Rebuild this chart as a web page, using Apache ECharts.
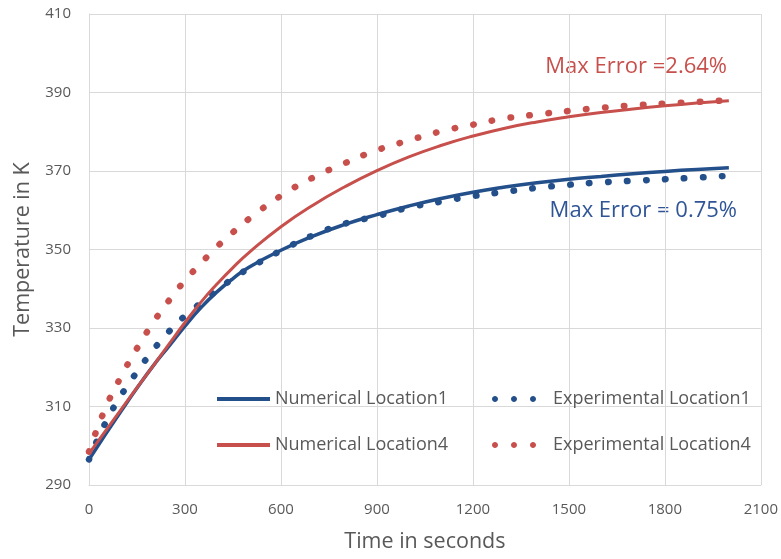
<!DOCTYPE html>
<html>
<head>
<meta charset="utf-8">
<script src="https://cdn.jsdelivr.net/npm/echarts@6/dist/echarts.min.js"></script>
<style>html,body{margin:0;padding:0;background:#fff}#c{width:781px;height:559px}</style>
</head>
<body>
<div id="c"></div>
<script>
// Time (s)
var timeS = [0,50,100,150,200,250,300,350,400,450,500,600,700,800,900,1000,1100,1200,1300,1400,1500,1600,1700,1800,1900,2000];
// Temperatures (K)
var numLoc1 = [296.5,302.7,308.8,314.7,320.3,325.4,330.5,335.2,339.2,342.6,345.5,349.8,353.4,356.4,358.9,361.1,363.0,364.6,365.9,367.0,367.9,368.6,369.3,369.9,370.4,370.8];
var expLoc1 = [296.5,305.6,312.8,318.8,324.3,329.1,333.1,336.4,339.6,342.6,345.2,349.7,353.6,356.6,358.5,360.7,362.2,363.6,364.7,365.7,366.5,367.1,367.5,367.9,368.3,368.8];
var numLoc4 = [298.0,303.6,309.2,314.8,320.3,325.9,331.4,336.6,341.2,345.4,349.2,355.8,361.3,366.0,370.1,373.6,376.5,378.9,380.9,382.5,383.8,384.9,385.8,386.6,387.3,387.9];
var expLoc4 = [298.5,309.3,317.6,324.8,331.3,337.0,342.1,346.5,350.7,354.4,357.8,363.7,368.3,372.0,375.3,377.8,380.1,381.8,383.4,384.4,385.3,386.1,386.7,387.2,387.6,388.0];
var xTicks = {min:0, max:2100, interval:300};
var yTicks = {min:290, max:410, interval:20};
var seriesNames = ['Numerical Location1','Experimental Location1','Numerical Location4','Experimental Location4'];
var annotations = ['Max Error =2.64%','Max Error = 0.75%'];

function pairs(xs, ys){ return xs.map(function(x,i){ return [x, ys[i]]; }); }
function dotPath(cx){
  var k = 1.657;
  return 'M' + (cx-3) + ',3C' + (cx-3) + ',' + (3-k) + ' ' + (cx-k) + ',0 ' + cx + ',0' +
         'C' + (cx+k) + ',0 ' + (cx+3) + ',' + (3-k) + ' ' + (cx+3) + ',3' +
         'C' + (cx+3) + ',' + (3+k) + ' ' + (cx+k) + ',6 ' + cx + ',6' +
         'C' + (cx-k) + ',6 ' + (cx-3) + ',' + (3+k) + ' ' + (cx-3) + ',3Z';
}

var BLUE = '#234f8a', RED = '#c8504c', GRAY = '#595959', GRID = '#d9d9d9';
var FONT = 'Open Sans';
var dotted = {width:6.5, type:[0.5,18.5], cap:'round'};
// three dots plus an empty tail so the label sits after a gap
var DOTS_ICON = 'path://' + dotPath(3) + dotPath(22) + dotPath(41) + 'M56,3L56,3Z';

var chart = echarts.init(document.getElementById('c'), null, {renderer:'canvas'});
chart.setOption({
  animation:false,
  backgroundColor:'#fff',
  textStyle:{fontFamily:FONT},
  grid:{left:89, right:20, top:14, bottom:74, containLabel:false},
  xAxis:{type:'value', min:xTicks.min, max:xTicks.max, interval:xTicks.interval,
    name:'Time in seconds', nameLocation:'middle', nameGap:46,
    nameTextStyle:{color:GRAY, fontSize:21.5, fontFamily:FONT},
    axisLine:{lineStyle:{color:GRID, width:1}}, axisTick:{show:false},
    axisLabel:{color:GRAY, fontSize:15, margin:17, fontFamily:FONT, formatter:function(v){return String(v);}},
    splitLine:{show:true, lineStyle:{color:GRID, width:1}}},
  yAxis:{type:'value', min:yTicks.min, max:yTicks.max, interval:yTicks.interval,
    name:'Temperature in K', nameLocation:'middle', nameGap:53,
    nameTextStyle:{color:GRAY, fontSize:21.5, fontFamily:FONT},
    axisLine:{show:true, lineStyle:{color:GRID, width:1}}, axisTick:{show:false},
    axisLabel:{color:GRAY, fontSize:15, margin:18, fontFamily:FONT, formatter:function(v){return String(v);}},
    splitLine:{show:true, lineStyle:{color:GRID, width:1}}},
  legend:[
    {data:[{name:seriesNames[0], icon:'rect'}, {name:seriesNames[2], icon:'rect'}], orient:'vertical', left:217, top:389, padding:0,
     itemWidth:53, itemHeight:4, itemGap:26,
     textStyle:{color:GRAY, fontSize:18, lineHeight:20, fontFamily:FONT}},
    {data:[{name:seriesNames[1], icon:DOTS_ICON}, {name:seriesNames[3], icon:DOTS_ICON}], orient:'vertical', left:492, top:389, padding:0,
     itemWidth:56, itemHeight:6, itemGap:26,
     textStyle:{color:GRAY, fontSize:18, lineHeight:20, fontFamily:FONT}}
  ],
  series:[
    {name:seriesNames[0], type:'line', data:pairs(timeS,numLoc1), smooth:true, symbol:'none',
     color:BLUE, lineStyle:{color:BLUE, width:3.5}},
    {name:seriesNames[1], type:'line', data:pairs(timeS,expLoc1), smooth:true, symbol:'none',
     color:BLUE, lineStyle:Object.assign({color:BLUE}, dotted)},
    {name:seriesNames[2], type:'line', data:pairs(timeS,numLoc4), smooth:true, symbol:'none',
     color:RED, lineStyle:{color:RED, width:3}},
    {name:seriesNames[3], type:'line', data:pairs(timeS,expLoc4), smooth:true, symbol:'none',
     color:RED, lineStyle:Object.assign({color:RED}, dotted)}
  ],
  graphic:[
    {type:'text', style:{x:727, y:67, text:annotations[0], fill:RED, font:'22px "Open Sans"', align:'right', verticalAlign:'middle'}},
    {type:'text', style:{x:737, y:211, text:annotations[1], fill:'#2f5597', font:'22px "Open Sans"', align:'right', verticalAlign:'middle'}}
  ]
});
</script>
</body>
</html>
